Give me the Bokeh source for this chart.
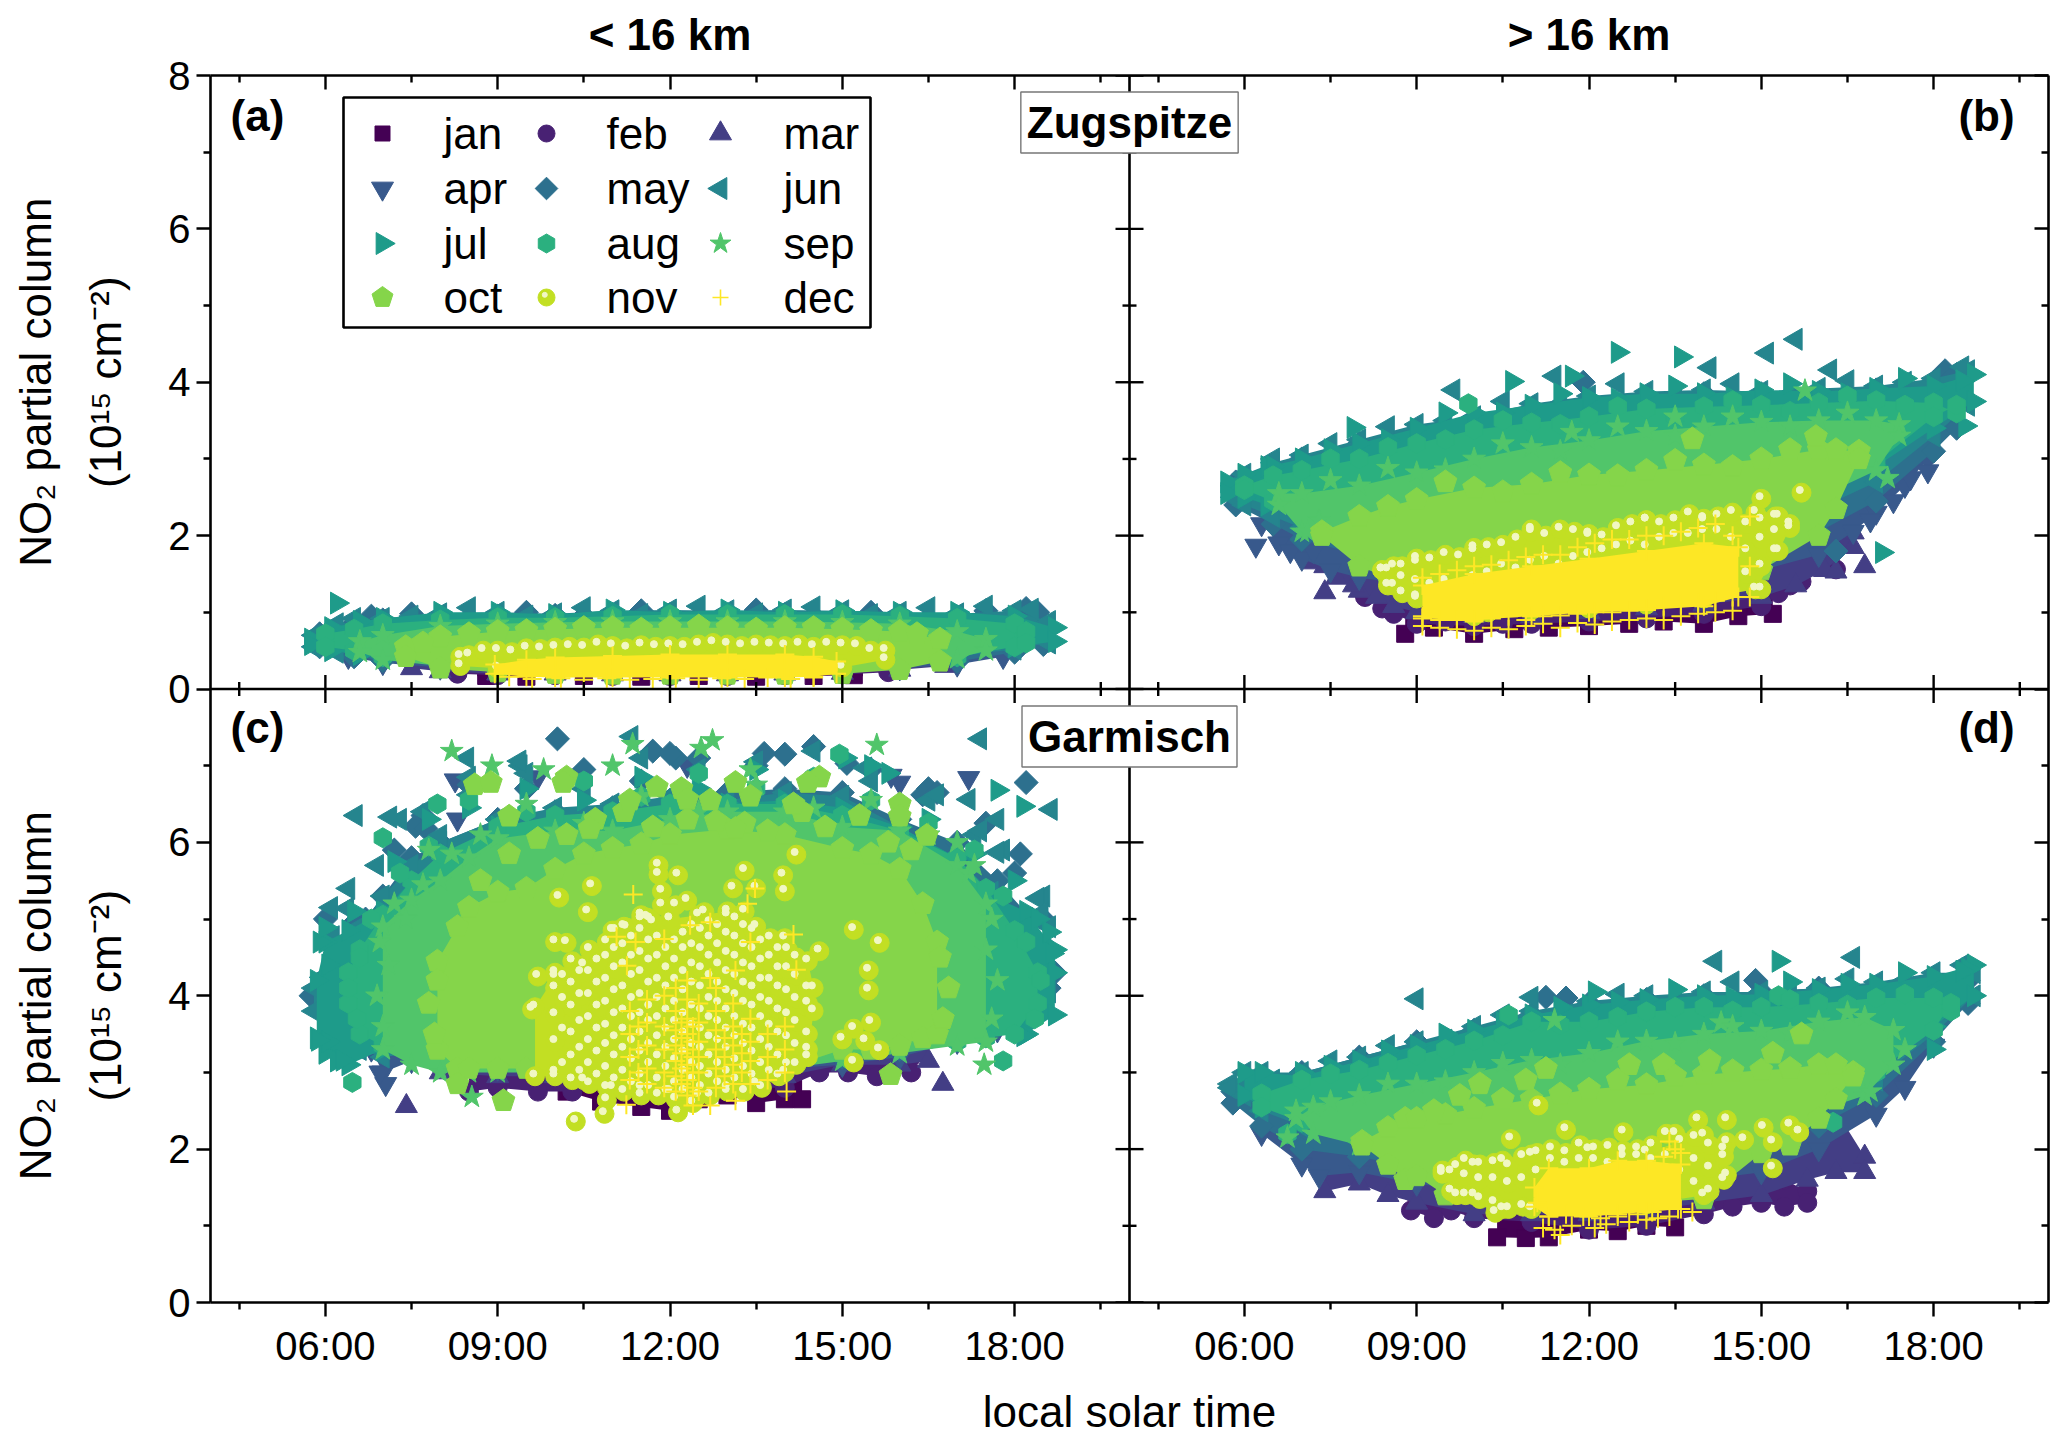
from math import pi
from bokeh.embed import file_html
from bokeh.models import (BoxAnnotation, FixedTicker, Label, LinearAxis, Range1d, Span)
from bokeh.plotting import figure
from bokeh.resources import INLINE

months = ["jan", "feb", "mar", "apr", "may", "jun", "jul", "aug", "sep", "oct", "nov", "dec"]
colors = ["#440154", "#482173", "#433E85", "#38598C", "#2D708E", "#25858E",
          "#1E9B8A", "#2BB07F", "#51C56A", "#85D54A", "#C2DF23", "#FDE725"]
x_tick_text = ["06:00", "09:00", "12:00", "15:00", "18:00"]
x_tick_hours = [6, 9, 12, 15, 18]
x_minor_hours = [4.5, 7.5, 10.5, 13.5, 16.5, 19.5]
y_tick_values = [0, 2, 4, 6, 8]
y_minor_values = [1, 3, 5, 7]

# ---------- panel (a): Zugspitze, < 16 km ----------
a_jan_t = [8.8, 9.5, 10.5, 11.5, 12.5, 13.5, 14.5, 15.2]
a_jan_lo = [.17, .16, .17, .16, .17, .16, .17, .18]
a_jan_hi = [.28, .3, .3, .3, .3, .3, .3, .28]
a_feb_t = [8.3, 9, 10, 11, 12, 13, 14, 15, 15.8]
a_feb_lo = [.2, .18, .18, .17, .17, .17, .18, .19, .22]
a_feb_hi = [.32, .35, .35, .35, .35, .35, .35, .35, .33]
a_mar_t = [7.5, 8, 9, 10, 11, 12, 13, 14, 15, 16, 16.8]
a_mar_lo = [.27, .23, .2, .2, .19, .19, .19, .2, .21, .25, .3]
a_mar_hi = [.45, .47, .5, .5, .5, .5, .5, .5, .5, .48, .45]
a_apr_t = [6.4, 7, 8, 9, 10, 11, 12, 13, 14, 15, 16, 17, 17.8]
a_apr_lo = [.42, .34, .28, .24, .23, .22, .22, .22, .23, .24, .27, .32, .42]
a_apr_hi = [.65, .68, .7, .72, .72, .72, .72, .72, .72, .72, .7, .7, .68]
a_may_t = [5.9, 6.5, 7, 8, 9, 10, 11, 12, 13, 14, 15, 16, 17, 18, 18.5]
a_may_lo = [.55, .42, .37, .32, .28, .27, .27, .26, .27, .27, .28, .3, .36, .48, .58]
a_may_hi = [.72, .85, .9, .93, .95, .96, .97, .97, .96, .97, .96, .95, .94, .93, .82]
a_may_hx = [6.8, 7.5, 8.5, 9.5, 10.5, 11.5, 12.5, 13.5, 14.5, 15.5, 16.5, 17.5, 18.2, 18.4]
a_may_hy = [.95, .98, .92, 1.0, .95, 1.02, .94, 1.03, .95, 1.0, .92, 1.02, 1.05, 1.0]
a_jun_t = [5.8, 6.2, 7, 8, 9, 10, 11, 12, 13, 14, 15, 16, 17, 18, 18.6]
a_jun_lo = [.55, .48, .42, .36, .33, .32, .31, .3, .31, .31, .33, .36, .42, .52, .6]
a_jun_hi = [.7, .85, .92, .98, 1.0, .98, 1.02, 1.03, 1.02, 1.03, 1.02, 1.0, .98, 1.02, .88]
a_jun_hx = [6.5, 7.5, 8.5, 9.5, 10.5, 11.5, 12.5, 13.5, 14.5, 15.5, 16.5, 17.5, 18.3]
a_jun_hy = [.92, .95, 1.06, .95, 1.06, .97, 1.08, .98, 1.07, .97, 1.06, 1.08, 1.04]
a_jul_t = [5.75, 6.1, 6.6, 7, 8, 9, 10, 11, 12, 13, 14, 15, 16, 17, 18, 18.7]
a_jul_lo = [.58, .5, .45, .42, .38, .35, .34, .33, .33, .33, .34, .35, .38, .45, .55, .62]
a_jul_hi = [.65, .8, .88, .92, 1.0, 1.0, .97, 1.03, 1.0, 1.03, 1.0, 1.02, 1.0, 1.0, .95, .8]
a_jul_xx = [6.2]
a_jul_xy = [1.12]
a_aug_t = [6, 6.5, 7, 8, 9, 10, 11, 12, 13, 14, 15, 16, 17, 18, 18.2]
a_aug_lo = [.55, .5, .42, .38, .35, .33, .33, .33, .33, .33, .35, .38, .42, .55, .6]
a_aug_hi = [.72, .78, .85, .9, .93, .93, .95, .97, .97, .97, .97, .95, .92, .85, .75]
a_sep_t = [6.6, 7, 8, 9, 10, 11, 12, 13, 14, 15, 16, 17, 17.5]
a_sep_lo = [.48, .38, .3, .28, .26, .25, .25, .25, .25, .27, .32, .4, .5]
a_sep_hi = [.62, .7, .82, .85, .87, .88, .88, .88, .88, .87, .85, .75, .65]
a_oct_t = [7.4, 8, 9, 10, 11, 12, 13, 14, 15, 16, 16.7]
a_oct_lo = [.42, .27, .22, .2, .19, .19, .19, .19, .2, .25, .36]
a_oct_hi = [.55, .68, .75, .78, .8, .8, .8, .8, .78, .75, .65]
a_oct_hx = [7.7, 8.5, 9.5, 10.5, 11.5, 12.5, 13.5, 14.5, 15.5, 16.3]
a_oct_hy = [.6, .72, .76, .8, .78, .82, .78, .8, .76, .72]
a_nov_t = [8.35, 9, 10, 11, 12, 13, 14, 15, 15.75]
a_nov_lo = [.3, .27, .26, .26, .25, .25, .26, .28, .38]
a_nov_hi = [.42, .5, .54, .56, .56, .58, .56, .57, .5]
a_nov_hx = [8.5, 8.75, 9.25, 9.5, 9.75, 10.25, 10.5, 10.75, 11.25, 11.5, 11.75, 12.25, 12.5, 12.75, 13.25, 13.5,
            13.75, 14.25, 14.5, 14.75, 15.25, 15.5]
a_nov_hy = [.44, .5, .48, .53, .52, .55, .54, .58, .53, .57, .55, .55, .58, .6, .56, .58, .57, .58, .55, .58, .56, .5]
a_dec_t = [8.95, 9.5, 10, 11, 12, 13, 14, 14.5, 14.9]
a_dec_lo = [.2, .16, .15, .15, .15, .15, .15, .16, .2]
a_dec_hi = [.32, .38, .41, .43, .45, .45, .45, .42, .36]
a_dec_xx = [9.2, 9.6, 10.1, 10.5, 10.9, 11.3, 11.7, 12.1, 12.5, 12.9, 13.3, 13.7, 14.1, 14.5]
a_dec_xy = [.16, .13, .14, .12, .14, .12, .13, .14, .12, .14, .13, .15, .13, .15]

# ---------- panel (b): Zugspitze, > 16 km ----------
b_jan_t = [8.8, 9.3, 10, 10.7, 11.3, 12, 12.7, 13.3, 14, 14.6, 15.2]
b_jan_lo = [.72, .8, .72, .78, .8, .82, .85, .88, .85, .95, .98]
b_jan_hi = [1.3, 1.35, 1.4, 1.4, 1.4, 1.45, 1.5, 1.5, 1.55, 1.6, 1.6]
b_feb_t = [8.1, 8.6, 9, 10, 11, 12, 13, 14, 15, 15.5]
b_feb_lo = [1.2, .98, .85, .82, .85, .88, .92, .98, 1.08, 1.35]
b_feb_hi = [1.6, 1.7, 1.7, 1.7, 1.75, 1.8, 1.85, 1.9, 1.9, 1.85]
b_feb_xx = [16.3, 8.4, 9.5, 10.5, 15.3, 15.7]
b_feb_xy = [1.56, 1.05, .88, .85, 1.25, 1.4]
b_mar_t = [7.2, 7.6, 8, 8.6, 9, 10, 11, 12, 13, 14, 15, 15.6, 16.1, 16.6]
b_mar_lo = [1.65, 1.45, 1.28, 1.08, 1.0, .95, .95, 1, 1.05, 1.1, 1.2, 1.35, 1.55, 1.85]
b_mar_hi = [2, 2.1, 2.1, 2.15, 2.15, 2.2, 2.2, 2.2, 2.25, 2.25, 2.3, 2.3, 2.3, 2.3]
b_mar_xx = [7.4, 16.8, 16.6, 16.3, 7.4, 7.9, 8.3]
b_mar_xy = [1.26, 1.6, 2.04, 1.53, 1.6, 1.35, 1.2]
b_apr_t = [6.3, 6.6, 7, 7.5, 8, 9, 10, 11, 12, 13, 14, 15, 16, 16.6, 17, 17.5, 17.9]
b_apr_lo = [2.15, 1.9, 1.7, 1.55, 1.45, 1.35, 1.3, 1.3, 1.35, 1.4, 1.45, 1.55, 1.75, 2.05, 2.3, 2.65, 3.0]
b_apr_hi = [2.5, 2.6, 2.7, 2.8, 2.85, 2.95, 3.05, 3.1, 3.2, 3.25, 3.3, 3.3, 3.35, 3.35, 3.3, 3.25, 3.2]
b_apr_xx = [6.2, 17.9, 6.8, 6.5, 7.2, 16.9, 17.3, 17.6]
b_apr_xy = [1.87, 2.84, 1.8, 2.15, 1.8, 2.2, 2.45, 2.75]
b_may_t = [5.85, 6.5, 7, 8, 9, 10, 11, 12, 13, 14, 15, 16, 17, 18, 18.4]
b_may_lo = [2.4, 2.15, 1.95, 1.75, 1.65, 1.6, 1.6, 1.6, 1.65, 1.7, 1.8, 2.05, 2.45, 3.1, 3.4]
b_may_hi = [2.7, 2.85, 3, 3.2, 3.35, 3.5, 3.6, 3.7, 3.8, 3.85, 3.85, 3.85, 3.9, 4.0, 4.1]
b_may_xx = [16.3, 11.9, 18.2, 18.3]
b_may_xy = [1.8, 4.0, 4.15, 4.05]
b_jun_t = [5.8, 6, 6.5, 7, 8, 9, 10, 11, 12, 13, 14, 15, 16, 17, 18, 18.6]
b_jun_lo = [2.5, 2.4, 2.25, 2.1, 1.95, 1.9, 1.85, 1.85, 1.9, 1.95, 2.0, 2.1, 2.35, 2.7, 3.3, 3.7]
b_jun_hi = [2.65, 2.8, 2.95, 3.05, 3.25, 3.45, 3.55, 3.72, 3.82, 3.88, 3.9, 3.88, 3.92, 3.95, 4.05, 4.15]
b_jun_xx = [15.1, 15.6, 14.1, 16.2, 9.64, 11.4, 6.5, 7.5, 8.5, 9.5, 10.5, 11.5, 12.5, 13.5, 14.5, 15.5, 16.5, 17.5, 18.5]
b_jun_xy = [4.38, 4.56, 4.19, 4.16, 3.9, 4.08, 3.0, 3.2, 3.42, 3.5, 3.75, 3.72, 3.98, 3.8, 3.98, 3.85, 4.02, 4.0, 4.2]
b_jul_t = [5.7, 6, 6.4, 7, 8, 9, 10, 11, 12, 13, 14, 15, 16, 17, 18, 18.7]
b_jul_lo = [2.55, 2.5, 2.4, 2.3, 2.2, 2.1, 2.05, 2.05, 2.1, 2.15, 2.2, 2.35, 2.55, 2.9, 3.4, 3.75]
b_jul_hi = [2.7, 2.8, 2.9, 3.0, 3.2, 3.4, 3.6, 3.7, 3.8, 3.85, 3.85, 3.9, 3.88, 3.92, 3.95, 4.1]
b_jul_xx = [12.5, 13.6, 10.66, 11.7, 7.9, 17.1, 18.55, 6.5, 7.5, 8.5, 9.5, 10.5, 11.5, 12.5, 13.5, 14.5, 15.5, 16.5,
            17.5, 18.5]
b_jul_xy = [4.39, 4.33, 4.01, 4.08, 3.41, 1.78, 3.43, 2.9, 3.12, 3.25, 3.6, 3.6, 3.85, 3.78, 3.95, 3.8, 3.98, 3.85,
            4.05, 4.02]
b_aug_t = [6, 6.5, 7, 8, 9, 10, 11, 12, 13, 14, 15, 16, 17, 18, 18.4]
b_aug_lo = [2.6, 2.45, 2.25, 2.1, 2.0, 2.0, 2.0, 2.05, 2.1, 2.2, 2.35, 2.6, 2.95, 3.55, 3.7]
b_aug_hi = [2.65, 2.78, 2.85, 3.0, 3.2, 3.38, 3.47, 3.55, 3.65, 3.68, 3.7, 3.73, 3.76, 3.73, 3.6]
b_aug_hx = [7.5, 8.5, 9.5, 10.5, 11.5, 12.5, 13.5, 14.5, 15.5, 16.5, 17.5, 9.9]
b_aug_hy = [3.0, 3.15, 3.25, 3.5, 3.45, 3.68, 3.55, 3.76, 3.62, 3.82, 3.7, 3.72]
b_sep_t = [6.6, 7, 8, 9, 10, 11, 12, 13, 14, 15, 16, 17, 17.4]
b_sep_lo = [2.4, 2.05, 1.8, 1.7, 1.7, 1.7, 1.8, 1.9, 2.0, 2.2, 2.5, 2.85, 3.3]
b_sep_hi = [2.55, 2.55, 2.65, 2.82, 3.0, 3.15, 3.24, 3.36, 3.42, 3.48, 3.5, 3.5, 3.45]
b_sep_xx = [15.76, 7.5, 8.5, 9.5, 10.5, 11.5, 12.5, 13.5, 14.5, 15.5, 16.5, 7.1, 7.3, 17.2, 11.7, 13.5]
b_sep_xy = [3.89, 2.72, 2.88, 2.86, 3.2, 3.1, 3.42, 3.3, 3.55, 3.42, 3.6, 2.05, 2.2, 2.75, 3.35, 3.55]
b_oct_t = [7.35, 8, 8.5, 9, 10, 11, 12, 13, 14, 15, 16, 16.3, 16.7]
b_oct_lo = [2.0, 1.6, 1.45, 1.35, 1.25, 1.25, 1.25, 1.3, 1.35, 1.55, 2.0, 2.35, 3.0]
b_oct_hi = [2.05, 2.25, 2.38, 2.47, 2.62, 2.67, 2.79, 2.85, 2.92, 3.0, 3.12, 3.12, 3.1]
b_oct_xx = [13.8, 15.95, 9.5, 10.5, 11.5, 12.5, 13.5, 14.5, 15.5]
b_oct_xy = [3.26, 3.29, 2.7, 2.57, 2.82, 2.78, 2.98, 2.9, 3.12]
b_nov_t = [8.4, 8.6, 9, 10, 11, 12, 13, 14, 14.9, 15.3, 15.5]
b_nov_lo = [1.55, 1.35, 1.18, .95, 1.03, 1.05, 1.1, 1.18, 1.3, 1.8, 2.1]
b_nov_hi = [1.55, 1.6, 1.7, 1.84, 2.08, 2.02, 2.2, 2.22, 2.3, 2.25, 2.15]
b_nov_xx = [15.7, 15.0]
b_nov_xy = [2.56, 2.48]
b_nov_cols = [
    (8.5, [1.35, 1.55]), (8.75, [1.25, 1.45, 1.6]), (9, [1.2, 1.4, 1.65]), (9.25, [1.15, 1.35, 1.68]),
    (9.5, [1.1, 1.4, 1.75]), (9.75, [1.05, 1.35, 1.72]), (10, [1.05, 1.45, 1.8]), (10.25, [1.0, 1.5, 1.85]),
    (10.5, [1.6, 1.88]), (10.75, [1.55, 1.95]), (11, [1.65, 2.05]), (11.25, [1.7, 2.0]), (11.5, [1.6, 2.08]),
    (11.75, [1.7, 2.05]), (12, [1.75, 2.0]), (12.25, [1.8, 1.98]), (12.5, [1.85, 2.1]), (12.75, [1.9, 2.15]),
    (13, [1.85, 2.2]), (13.25, [1.95, 2.15]), (13.5, [2.0, 2.2]), (13.75, [2.0, 2.28]), (14, [2.05, 2.2]),
    (14.25, [2.05, 2.25]), (14.5, [1.95, 2.3]), (14.75, [1.5, 1.8, 2.15]), (15, [1.3, 1.6, 1.95, 2.2]),
    (15.25, [1.8, 2.05, 2.25]),
]
b_dec_t = [9.1, 10, 11, 12, 13, 14, 14.6]
b_dec_lo = [.92, .9, .95, 1.0, 1.03, 1.08, 1.2]
b_dec_hi = [1.35, 1.5, 1.6, 1.7, 1.8, 1.9, 1.85]
b_dec_cols = [
    (9.1, [.82, .95, 1.45]), (9.4, [.8, .9, 1.5]), (9.7, [.78, .9, 1.55]), (10, [.76, .88, 1.6]),
    (10.3, [.8, .92, 1.62]), (10.6, [.78, .95, 1.68]), (10.9, [.82, .9, 1.72]), (11.2, [.85, .95, 1.75]),
    (11.5, [.8, .96, 1.75]), (11.8, [.86, .98, 1.85]), (12.1, [.84, 1.0, 1.9]), (12.4, [.88, 1.0, 1.95]),
    (12.7, [.9, 1.02, 1.95]), (13, [.92, 1.05, 2.0]), (13.3, [.9, 1.08, 2.0]), (13.6, [.95, 1.1, 2.05]),
    (13.9, [.98, 1.12, 2.1]), (14.2, [1.0, 1.15, 2.15]), (14.5, [1.02, 1.2, 2.0]), (14.8, [1.2, 1.6, 2.25]),
]

# ---------- panel (c): Garmisch, < 16 km ----------
c_jan_t = [10.2, 10.8, 11.5, 12, 12.5, 13, 13.5, 14, 14.3]
c_jan_lo = [2.75, 2.62, 2.55, 2.5, 2.65, 2.7, 2.6, 2.65, 2.65]
c_jan_hi = [3.1, 3.2, 3.2, 3.2, 3.2, 3.2, 3.2, 3.2, 3.1]
c_feb_t = [8.5, 9, 9.7, 10.3, 11, 12, 13, 14, 14.6, 15.1, 15.6, 16.2]
c_feb_lo = [2.75, 2.8, 2.75, 2.75, 2.85, 2.8, 2.8, 2.8, 3.0, 3.0, 2.95, 3.0]
c_feb_hi = [3.1, 3.2, 3.2, 3.3, 3.3, 3.3, 3.3, 3.3, 3.3, 3.3, 3.3, 3.2]
c_mar_t = [8, 9, 10, 11, 12, 13, 14, 15, 16, 16.5]
c_mar_lo = [3.0, 2.95, 2.95, 2.95, 2.9, 2.95, 2.95, 3.1, 3.1, 3.15]
c_mar_hi = [3.5, 3.6, 3.6, 3.6, 3.6, 3.6, 3.6, 3.6, 3.6, 3.5]
c_mar_xx = [7.41, 16.75]
c_mar_xy = [2.56, 2.85]
c_apr_t = [6.8, 7, 7.5, 8, 9, 10, 11, 12, 13, 14, 15, 16, 17, 17.7]
c_apr_lo = [3.3, 3.0, 3.15, 3.1, 3.05, 3.05, 3.05, 3.05, 3.05, 3.05, 3.1, 3.2, 3.4, 3.55]
c_apr_hi = [4.5, 5.0, 5.4, 5.8, 6.1, 6.2, 6.2, 6.3, 6.3, 6.3, 6.2, 6.1, 5.6, 5.0]
c_apr_xx = [8.26, 17.2, 16.0, 15.85, 7.05, 6.95, 8.3, 9.7, 12.3]
c_apr_xy = [6.81, 6.84, 6.78, 6.87, 2.85, 3.0, 6.3, 6.85, 7.0]
c_may_t = [5.85, 6.2, 6.7, 7, 7.5, 8, 9, 10, 11, 12, 13, 14, 15, 16, 17, 17.7, 18.3, 18.6]
c_may_lo = [4.0, 3.7, 3.5, 3.35, 3.25, 3.15, 3.1, 3.1, 3.1, 3.1, 3.1, 3.15, 3.2, 3.3, 3.45, 3.6, 3.8, 4.1]
c_may_hi = [4.05, 4.5, 5.0, 5.3, 5.8, 6.0, 6.3, 6.4, 6.45, 6.55, 6.65, 6.7, 6.65, 6.3, 6.0, 5.5, 5.0, 4.6]
c_may_xx = [10.04, 18.2, 18.1, 14.0, 12.1, 6.0, 6.5, 7.2, 7.7, 8.5, 9.5, 10.5, 11.5, 12.5, 13.5, 14.5, 15.5, 16.5,
            17.5, 18.0, 18.5, 18.7, 6.2, 6.4, 7.57, 7.75, 11.7, 12.0, 13.64, 15.08, 16.4, 16.65, 5.75, 18.5, 18.4]
c_may_xy = [7.35, 6.78, 5.85, 7.15, 7.1, 5.0, 4.95, 5.9, 6.35, 6.75, 6.7, 6.95, 6.8, 7.1, 7.0, 7.25, 6.95, 6.7,
            6.25, 5.6, 5.0, 4.3, 3.6, 3.3, 6.21, 6.18, 7.19, 7.16, 7.16, 7.03, 6.62, 6.65, 4.0, 4.2, 3.89]
c_jun_t = [5.8, 6.2, 6.6, 7, 7.5, 8, 9, 10, 11, 12, 13, 14, 15, 16, 17, 17.6, 18.2, 18.6]
c_jun_lo = [3.8, 3.4, 3.3, 3.2, 3.25, 3.2, 3.15, 3.15, 3.15, 3.15, 3.15, 3.2, 3.25, 3.35, 3.5, 3.65, 3.8, 4.05]
c_jun_hi = [4.1, 4.6, 4.9, 5.3, 5.7, 6.0, 6.3, 6.45, 6.5, 6.6, 6.55, 6.65, 6.6, 6.2, 5.8, 5.35, 4.95, 4.3]
c_jun_xx = [6.53, 17.4, 11.33, 18.63, 17.7, 8.47, 17.2, 14.5, 9.4, 6.1, 6.4, 6.9, 7.3, 7.7, 8.5, 9.5, 10.5, 11.5,
            12.5, 13.5, 15.5, 16.5, 17.3, 17.8, 18.5, 18.6, 7.13, 8.0, 8.5, 9.38, 15.4, 16.65, 17.4, 17.7, 18.4,
            18.47, 6.38, 6.13, 5.94]
c_jun_xy = [6.35, 7.35, 7.38, 6.43, 6.3, 7.1, 6.56, 7.19, 7.0, 5.15, 5.4, 5.7, 6.3, 6.4, 6.85, 6.9, 6.7, 7.1,
            6.95, 7.05, 6.8, 6.55, 6.1, 5.9, 5.3, 4.9, 6.33, 6.09, 6.62, 7.06, 6.97, 6.62, 6.15, 5.87, 5.27,
            5.08, 5.14, 4.77, 4.24]
c_jul_t = [5.85, 6, 6.4, 7, 7.5, 8, 9, 10, 11, 12, 13, 14, 15, 16, 17, 17.6, 18.2, 18.7]
c_jul_lo = [3.45, 3.25, 3.1, 3.3, 3.3, 3.25, 3.2, 3.2, 3.2, 3.2, 3.2, 3.25, 3.3, 3.4, 3.5, 3.6, 3.5, 3.75]
c_jul_hi = [4.2, 4.7, 4.85, 5.1, 5.5, 5.8, 6.2, 6.3, 6.35, 6.45, 6.5, 6.55, 6.45, 6.2, 5.8, 5.3, 5.1, 4.6]
c_jul_xx = [17.7, 18.15, 15.05, 6.05, 6.2, 5.9, 6.05, 6.5, 7.2, 7.8, 8.5, 9.5, 10.5, 11.5, 12.5, 13.5, 14.5, 15.5,
            16.5, 17.3, 18, 18.4, 18.7, 15.8, 6.0, 5.87, 6.3, 18.15, 18.6, 18.65]
c_jul_xy = [6.68, 6.47, 7.1, 3.4, 3.15, 4.7, 4.4, 5.1, 5.75, 6.3, 6.45, 6.7, 6.55, 6.85, 6.7, 6.95, 6.8, 7.0,
            6.3, 5.85, 5.5, 5.0, 4.3, 6.9, 4.89, 3.42, 3.16, 3.48, 4.83, 4.55]
c_aug_t = [6.4, 6.6, 7, 7.5, 8, 9, 10, 11, 12, 13, 14, 15, 16, 17, 17.5, 18, 18.4]
c_aug_lo = [3.9, 3.5, 3.35, 3.3, 3.2, 3.15, 3.15, 3.15, 3.15, 3.15, 3.2, 3.25, 3.35, 3.4, 3.45, 3.5, 3.9]
c_aug_hi = [4.3, 4.6, 5.05, 5.5, 5.85, 6.2, 6.35, 6.4, 6.5, 6.5, 6.5, 6.35, 6.15, 5.8, 5.4, 4.85, 4.3]
c_aug_xx = [7.0, 6.47, 17.8, 7.95, 14.95, 6.8, 7.3, 7.8, 8.5, 9.5, 10.5, 11.5, 12.5, 13.5, 14.5, 15.5, 16.5, 17.3,
            17.8, 18.2, 6.55, 6.4, 6.6, 18.35, 18.45]
c_aug_xy = [6.06, 2.87, 3.15, 6.5, 7.15, 5.0, 5.6, 5.95, 6.55, 6.4, 6.8, 6.6, 6.9, 6.7, 6.85, 6.55, 6.25, 5.9,
            5.3, 4.7, 3.7, 4.1, 4.5, 3.7, 4.2]
c_sep_t = [7, 7.5, 8, 8.5, 9, 10, 11, 12, 13, 14, 15, 16, 17, 17.5]
c_sep_lo = [3.3, 3.1, 3.0, 3.0, 3.0, 3.0, 3.0, 3.0, 3.0, 3.05, 3.15, 3.25, 3.35, 3.4]
c_sep_hi = [4.9, 5.25, 5.5, 5.8, 6.05, 6.15, 6.15, 6.3, 6.4, 6.4, 6.2, 6.15, 5.7, 5.2]
c_sep_xx = [8.2, 12.74, 12.54, 15.6, 11.35, 8.55, 17.47, 8.9, 9.8, 11.0, 13.4, 7.2, 7.7, 8.2, 8.7, 9.5, 10.5, 11.5,
            12.5, 13.5, 14.5, 15.5, 16.5, 17.2, 7.4, 7.8, 17, 17.3, 7.0, 6.9, 7.1, 6.95, 17.6, 17.7, 17.5, 17.6]
c_sep_xy = [7.19, 7.33, 7.23, 7.27, 7.28, 2.68, 3.1, 7.0, 6.95, 7.0, 6.95, 5.2, 5.45, 5.85, 6.1, 6.5, 6.25, 6.6,
            6.4, 6.75, 6.45, 6.55, 6.1, 5.6, 5.0, 5.9, 6.0, 5.7, 3.6, 4.0, 4.4, 4.7, 3.7, 4.2, 4.6, 5.0]
c_oct_t = [7.95, 8.3, 8.5, 9, 9.5, 10, 10.5, 11, 11.5, 12, 13, 14, 15, 15.5, 16, 16.4, 16.65]
c_oct_lo = [3.3, 3.05, 3.05, 3.05, 3.05, 3.05, 3.05, 3.05, 3.05, 3.05, 3.05, 3.05, 3.3, 3.3, 3.35, 3.45, 3.5]
c_oct_hi = [4.45, 4.9, 5.15, 5.35, 5.4, 5.65, 5.85, 5.92, 5.98, 6.1, 6.17, 6.1, 5.92, 5.85, 5.65, 5.2, 4.7]
c_oct_xx = [15.84, 9.1, 8.3, 10.2, 11.2, 13.4, 14.6, 16.0, 12.2, 8.6, 8.7, 9.2, 9.7, 10.2, 10.7, 11.3, 11.7, 12.3,
            12.7, 13.3, 13.7, 14.3, 14.7, 15.3, 15.8, 16.2, 8.88, 10.14, 9.2, 10.6, 11.77, 13.14, 14.4, 14.15, 16,
            16.47, 12.3, 12.8, 13.14, 7.9, 7.8, 7.95, 16.75, 16.85, 16.7]
c_oct_xy = [2.97, 2.63, 2.85, 6.85, 6.4, 6.6, 6.85, 6.5, 6.7, 6.75, 5.5, 5.85, 6.05, 6.1, 6.3, 6.55, 6.2, 6.3,
            6.55, 6.25, 6.15, 6.4, 6.2, 6.35, 6.0, 5.9, 6.78, 6.78, 6.34, 6.18, 6.72, 6.78, 6.78, 6.5, 6.34,
            6.09, 6.56, 6.28, 6.18, 3.5, 3.9, 4.2, 3.7, 4.1, 4.5]
c_nov_t = [9.65, 10, 10.5, 11, 11.5, 12, 12.5, 13, 13.5, 14, 14.4, 14.5]
c_nov_lo = [2.95, 2.95, 2.9, 2.8, 2.8, 2.75, 2.7, 2.8, 2.85, 3.0, 3.2, 3.8]
c_nov_hi = [3.85, 4.25, 4.4, 4.85, 5.05, 5.0, 5.05, 5.1, 4.9, 4.75, 4.45, 4.1]
c_nov_xx = [10.07, 10.64, 10.57, 10.0, 10.2, 9.7, 9.6, 11.8, 11.8, 12.14, 11.86, 11.86, 12.1, 12.3, 13.3, 13.1,
            13.5, 13.97, 14.0, 14.2, 12.6, 14.6, 15.2, 15.65, 15.46, 15.46, 15.5, 15.2, 15.0, 15.4, 15.65, 15.2,
            14.4, 10.36, 10.86, 10.9, 12.14, 11.6, 11.24, 11.7]
c_nov_xy = [5.28, 5.43, 5.09, 4.7, 4.69, 4.25, 3.82, 5.7, 5.58, 5.57, 5.36, 5.18, 5.18, 5.24, 5.63, 5.4,
            5.4, 5.57, 5.36, 5.84, 5.09, 4.58, 4.86, 4.69, 4.33, 4.07, 3.65, 3.57, 3.43, 3.41, 3.29, 3.13,
            3.5, 2.36, 2.46, 2.64, 2.48, 5.02, 4.89, 4.96]
c_nov_cols = [
    (10.0, [3.0, 3.4, 3.75, 4.1, 4.3]), (10.3, [2.9, 3.2, 3.5, 3.85, 4.15, 4.45]),
    (10.6, [2.85, 3.1, 3.4, 3.7, 4.0, 4.3, 4.6]), (10.9, [2.8, 3.05, 3.35, 3.6, 3.9, 4.2, 4.5, 4.7]),
    (11.2, [2.75, 3.0, 3.3, 3.55, 3.8, 4.1, 4.4, 4.65, 4.9]),
    (11.5, [2.7, 2.95, 3.25, 3.5, 3.75, 4.0, 4.3, 4.55, 4.85, 5.0]),
    (11.8, [2.7, 2.9, 3.2, 3.45, 3.7, 3.95, 4.2, 4.5, 4.75]),
    (12.1, [2.65, 2.85, 3.15, 3.4, 3.65, 3.9, 4.2, 4.45, 4.7]),
    (12.4, [2.6, 2.9, 3.1, 3.35, 3.6, 3.85, 4.15, 4.4, 4.65, 4.9]),
    (12.7, [2.7, 2.95, 3.2, 3.45, 3.7, 3.95, 4.25, 4.5, 4.75, 4.95]),
    (13.0, [2.75, 3.0, 3.3, 3.55, 3.8, 4.05, 4.3, 4.55, 4.8, 5.05]),
    (13.3, [2.75, 3.05, 3.35, 3.6, 3.9, 4.15, 4.4, 4.65, 4.9, 5.1]),
    (13.6, [2.8, 3.1, 3.4, 3.7, 3.95, 4.2, 4.45, 4.7]), (13.9, [2.95, 3.2, 3.5, 3.8, 4.1, 4.35, 4.6]),
    (14.2, [3.1, 3.35, 3.65, 3.95, 4.25, 4.5]), (14.4, [3.3, 3.9, 4.1]),
    (10.15, [3.1, 3.55, 3.95, 4.25]), (10.45, [3.0, 3.3, 3.65, 4.0, 4.3]),
    (10.75, [2.95, 3.25, 3.55, 3.85, 4.15, 4.45]), (11.05, [2.9, 3.2, 3.45, 3.75, 4.05, 4.35, 4.6, 4.85]),
    (11.35, [2.85, 3.15, 3.4, 3.7, 3.95, 4.25, 4.5, 4.75]),
    (11.65, [2.8, 3.1, 3.35, 3.65, 3.85, 4.15, 4.45, 4.7, 5.0]),
    (11.95, [2.75, 3.05, 3.3, 3.55, 3.8, 4.1, 4.35, 4.6]),
    (12.25, [2.75, 3.0, 3.25, 3.5, 3.75, 4.05, 4.3, 4.6, 4.8]),
    (12.55, [2.8, 3.05, 3.3, 3.55, 3.8, 4.1, 4.35, 4.6, 4.85]),
    (12.85, [2.85, 3.1, 3.4, 3.65, 3.9, 4.15, 4.4, 4.65, 4.9]),
    (13.15, [2.9, 3.15, 3.45, 3.7, 4.0, 4.25, 4.5, 4.75, 5.0]),
    (13.45, [2.95, 3.25, 3.55, 3.85, 4.1, 4.35, 4.6, 4.85]),
    (13.75, [3.0, 3.3, 3.6, 3.9, 4.2, 4.5, 4.75]), (14.05, [3.1, 3.45, 3.75, 4.05, 4.35, 4.6]),
]
c_dec_xx = [11.36, 13.48, 13.35, 12.7, 12.35, 14.15, 11.9, 11.07, 11.4, 14.2, 13.14, 11.25, 12.7, 13.4, 14.03,
            11.24, 13.14, 12.7, 12.4]
c_dec_xy = [5.32, 5.4, 5.2, 4.96, 4.92, 4.8, 4.74, 4.77, 4.7, 4.34, 4.33, 4.39, 4.23, 4.7, 2.75,
            2.58, 2.63, 2.57, 2.57]
c_dec_cols = [
    (11.3, [2.9, 3.2, 3.5, 3.8]), (11.6, [2.85, 3.05, 3.35, 3.65, 3.95]), (11.9, [2.8, 3.0, 3.3, 3.6, 4.0]),
    (12.1, [2.75, 2.95, 3.15, 3.35, 3.55, 3.8, 4.1]), (12.3, [2.7, 2.9, 3.1, 3.3, 3.5, 3.7, 3.95, 4.2]),
    (12.5, [2.75, 3.0, 3.2, 3.4, 3.65, 3.9]), (12.8, [2.8, 3.05, 3.3, 3.55, 3.8, 4.1]),
    (13.1, [2.85, 3.1, 3.35, 3.6, 3.9]), (13.4, [2.85, 3.15, 3.4, 3.7]), (13.7, [2.9, 3.2, 3.5]),
    (14.0, [3.0, 3.3, 3.6]),
    (12.2, [2.85, 3.05, 3.25, 3.45, 3.65]), (12.4, [2.8, 3.0, 3.2, 3.4, 3.6]), (11.45, [3.0, 3.3, 3.6]),
    (12.95, [2.95, 3.2, 3.45]), (13.25, [3.0, 3.25, 3.5]),
]

# ---------- panel (d): Garmisch, > 16 km ----------
d_jan_t = [10.4, 10.9, 11.3, 12, 12.5, 13, 13.5]
d_jan_lo = [.85, .84, .85, .95, .93, 1.0, .98]
d_jan_hi = [1.2, 1.2, 1.25, 1.3, 1.3, 1.3, 1.3]
d_feb_t = [8.9, 9.3, 9.6, 10, 11, 12, 13, 14, 14.5, 15, 15.4, 15.8]
d_feb_lo = [1.2, 1.1, 1.2, 1.1, 1.05, .95, 1.0, 1.15, 1.25, 1.3, 1.25, 1.3]
d_feb_hi = [1.45, 1.5, 1.55, 1.6, 1.6, 1.6, 1.65, 1.7, 1.75, 1.8, 1.6, 1.45]
d_mar_t = [7.4, 8, 8.5, 9, 10, 11, 12, 13, 14, 15, 15.8, 16.3, 16.8]
d_mar_lo = [1.45, 1.55, 1.4, 1.3, 1.15, 1.15, 1.15, 1.2, 1.3, 1.4, 1.6, 1.7, 1.7]
d_mar_hi = [1.9, 2.0, 2.1, 2.1, 2.1, 2.15, 2.2, 2.2, 2.3, 2.4, 2.5, 2.5, 1.9]
d_apr_t = [6.3, 7, 7.3, 8, 9, 10, 11, 12, 13, 14, 15, 16, 17, 17.5, 18]
d_apr_lo = [2.2, 1.8, 1.65, 1.7, 1.55, 1.45, 1.45, 1.45, 1.5, 1.6, 1.7, 2.0, 2.45, 2.8, 3.35]
d_apr_hi = [2.6, 2.8, 2.9, 3.0, 3.2, 3.3, 3.5, 3.6, 3.7, 3.8, 3.8, 3.8, 3.8, 3.7, 3.7]
d_may_t = [5.8, 6.3, 7, 8, 9, 10, 11, 12, 13, 14, 15, 16, 17, 18, 18.6]
d_may_lo = [2.6, 2.3, 2.0, 1.9, 1.75, 1.6, 1.6, 1.6, 1.65, 1.8, 2.0, 2.3, 2.7, 3.4, 3.9]
d_may_hi = [2.75, 2.9, 3.0, 3.2, 3.4, 3.55, 3.75, 3.9, 3.95, 4.0, 4.05, 4.1, 4.1, 4.2, 4.2]
d_may_xx = [11.25, 11.6, 14.9]
d_may_xy = [3.98, 3.97, 4.2]
d_jun_t = [5.75, 6, 6.3, 7, 8, 9, 10, 11, 12, 13, 14, 15, 16, 17, 18, 18.7]
d_jun_lo = [2.8, 2.7, 2.5, 2.3, 2.1, 2.0, 1.85, 1.8, 1.8, 1.85, 2.0, 2.2, 2.5, 2.9, 3.5, 4.0]
d_jun_hi = [2.85, 3.0, 3.0, 3.0, 3.2, 3.4, 3.6, 3.8, 3.93, 4.0, 4.05, 4.05, 4.1, 4.18, 4.3, 4.3]
d_jun_xx = [9.0, 14.2, 16.6, 11.0, 6.5, 7.5, 8.5, 9.5, 10.5, 11.5, 12.5, 13.5, 14.5, 15.5, 16.5, 17.5, 18.5]
d_jun_xy = [3.96, 4.45, 4.5, 3.98, 2.9, 3.15, 3.35, 3.42, 3.75, 3.75, 4.02, 3.95, 4.18, 4.02, 4.22, 4.2, 4.4]
d_jul_t = [6, 6.3, 7, 8, 9, 10, 11, 12, 13, 14, 15, 16, 17, 18, 18.7]
d_jul_lo = [2.7, 2.55, 2.5, 2.3, 2.15, 2.05, 2.0, 2.0, 2.05, 2.2, 2.35, 2.7, 3.0, 3.6, 4.0]
d_jul_hi = [3.0, 3.0, 2.95, 3.15, 3.35, 3.55, 3.75, 3.88, 3.95, 4.0, 4.02, 4.08, 4.15, 4.25, 4.4]
d_jul_xx = [15.3, 12.1, 18.0, 18.6, 7.0, 7.5, 8.5, 9.5, 10.5, 11.5, 12.5, 13.5, 14.5, 15.5, 16.5, 17.5, 18.5]
d_jul_xy = [4.45, 4.05, 3.3, 4.35, 3.0, 3.08, 3.28, 3.5, 3.65, 3.85, 3.92, 4.08, 3.98, 4.18, 4.15, 4.3, 4.32]
d_aug_t = [6.3, 7, 8, 9, 10, 11, 12, 13, 14, 15, 16, 17, 18, 18.3]
d_aug_lo = [2.55, 2.35, 2.2, 2.1, 2.05, 2.0, 2.0, 2.05, 2.2, 2.35, 2.6, 3.0, 3.55, 3.9]
d_aug_hi = [2.72, 2.9, 3.03, 3.22, 3.41, 3.66, 3.66, 3.79, 3.85, 3.85, 3.9, 3.97, 3.97, 3.8]
d_aug_xx = [10.6, 15.3, 16.25, 6.75, 7.5, 8.5, 9.5, 10.5, 11.5, 12.5, 13.5, 14.5, 15.5, 16.5, 17.5]
d_aug_xy = [3.75, 4.0, 2.35, 2.2, 2.98, 3.12, 3.3, 3.48, 3.62, 3.72, 3.85, 3.8, 3.95, 3.88, 4.02]
d_sep_t = [6.9, 7.2, 8, 9, 10, 11, 12, 13, 14, 15, 16, 16.8, 17.3]
d_sep_lo = [2.5, 2.2, 2.05, 2.0, 1.95, 1.9, 1.9, 2.0, 2.15, 2.3, 2.5, 2.7, 3.1]
d_sep_hi = [2.4, 2.55, 2.7, 2.85, 3.0, 3.16, 3.25, 3.41, 3.5, 3.54, 3.66, 3.72, 3.55]
d_sep_xx = [11.4, 14.3, 17.5, 6.75, 16.9, 7.5, 8.5, 9.5, 10.5, 11.5, 12.5, 13.5, 14.5, 15.5, 16.5]
d_sep_xy = [3.68, 3.65, 3.3, 2.15, 2.75, 2.62, 2.85, 2.88, 3.12, 3.1, 3.4, 3.38, 3.6, 3.5, 3.78]
d_oct_t = [8.05, 8.5, 8.8, 9, 9.5, 10, 11, 12, 13, 14, 15, 15.5, 16, 16.3, 16.6]
d_oct_lo = [2.05, 1.8, 1.6, 1.65, 1.4, 1.5, 1.3, 1.25, 1.3, 1.35, 1.95, 2.05, 2.4, 2.65, 2.95]
d_oct_hi = [2.1, 2.28, 2.4, 2.4, 2.45, 2.53, 2.65, 2.78, 2.84, 2.97, 3.03, 3.05, 3.1, 3.1, 3.0]
d_oct_xx = [15.7, 15.2, 10.1, 10.9, 11.25, 12.7, 13.3, 14.1, 9.75, 9.3, 10.5, 11.5, 12.5, 13.5, 14.5]
d_oct_xy = [3.5, 3.25, 2.85, 2.9, 3.05, 3.1, 3.1, 3.15, 2.7, 2.5, 2.65, 2.72, 2.9, 2.95, 3.02]
d_nov_t = [9.45, 9.7, 10, 10.5, 11, 12, 13, 14, 14.4]
d_nov_lo = [1.68, 1.4, 1.4, 1.22, 1.22, 1.25, 1.28, 1.4, 1.66]
d_nov_hi = [1.72, 1.77, 1.8, 1.85, 1.93, 1.99, 1.96, 2.18, 2.09]
d_nov_xx = [11.12, 10.64, 12.6, 11.6, 13.9, 14.4, 15.04, 15.5, 15.66, 15.2, 15.2, 10.37, 14.7, 13.5]
d_nov_xy = [2.57, 2.13, 2.22, 2.25, 2.38, 2.38, 2.28, 2.31, 2.22, 2.09, 1.75, 1.17, 2.12, 2.2]
d_nov_cols = [
    (9.6, [1.45, 1.7]), (9.85, [1.4, 1.65, 1.85]), (10.1, [1.35, 1.6, 1.8]), (10.35, [1.3, 1.6, 1.82]),
    (10.6, [1.22, 1.55, 1.78]), (10.85, [1.25, 1.6, 1.9]), (11.1, [1.7, 1.95]), (11.35, [1.85, 2.0]),
    (11.6, [1.8, 1.95]), (11.85, [1.85, 2.05]), (12.1, [1.85, 2.0]), (12.35, [1.8, 2.02]), (12.6, [1.9, 1.98]),
    (12.85, [1.9, 2.0]), (13.1, [1.85, 2.05]), (13.35, [1.9, 2.2]), (13.6, [1.7, 2.1]),
    (13.85, [1.55, 1.85, 2.15]), (14.1, [1.45, 1.75, 2.05]), (14.35, [1.6, 1.9, 2.0]),
]
d_dec_t = [11.05, 11.3, 12, 12.5, 13, 13.6]
d_dec_lo = [1.25, 1.12, 1.12, 1.15, 1.18, 1.22]
d_dec_hi = [1.5, 1.75, 1.75, 1.85, 1.85, 1.8]
d_dec_xx = [11.2, 11.4, 11.5, 11.7, 12.1, 12.3, 12.7, 13.0, 13.2, 13.4, 13.8, 13.5, 13.4, 13.6, 11.3, 11.6, 11.9,
            12.2, 12.5, 12.85, 13.1, 13.55, 11.1, 13.3]
d_dec_xy = [.97, .95, .88, 1.0, .97, 1.02, 1.05, 1.08, 1.1, 1.12, 1.18, 2.0, 2.1, 1.95, 1.12, 1.15, 1.12,
            1.1, 1.12, 1.15, 1.18, 1.22, 1.3, 1.9]

# ---------- layout: reference pixel frame ----------
FX0, FX1, FY0, FY1 = 210, 2048, 75, 1302
FRAME_W, FRAME_H = FX1 - FX0, FY1 - FY0
MS = 19


def px(X):
    return 4 + (X - FX0) * 32 / FRAME_W


def py(Y):
    return (FY1 - Y) * 16 / FRAME_H


p = figure(width=2058, height=1436, x_range=Range1d(4, 36), y_range=Range1d(0, 16),
           frame_width=FRAME_W, frame_height=FRAME_H,
           output_backend="svg", toolbar_location=None, x_axis_location=None, y_axis_location=None,
           min_border_left=FX0, min_border_top=FY0, min_border_right=10, min_border_bottom=10,
           outline_line_color=None)
p.xgrid.visible = False
p.ygrid.visible = False
p.extra_x_ranges = {"xr": Range1d(-12, 20)}   # 4..20 h on the right half
p.extra_y_ranges = {"yt": Range1d(-8, 8)}     # 0..8 on the upper half

panels = {"a": ("default", "yt"), "b": ("xr", "yt"), "c": ("default", "default"), "d": ("xr", "default")}
g = globals()


def markers(pn, i, xs, ys, xr, yr):
    m = months[i]
    kw = dict(x_range_name=xr, y_range_name=yr)
    col = colors[i]
    if m == "jan":
        p.scatter(xs, ys, marker="square", size=MS - 2, color=col, **kw)
    elif m == "feb":
        p.scatter(xs, ys, marker="circle", size=MS, color=col, **kw)
    elif m == "mar":
        p.scatter(xs, ys, marker="triangle", size=MS + 3, color=col, **kw)
    elif m == "apr":
        p.scatter(xs, ys, marker="inverted_triangle", size=MS + 3, color=col, **kw)
    elif m == "may":
        p.scatter(xs, ys, marker="square", angle=pi / 4, size=MS - 2, color=col, **kw)
    elif m == "jun":
        p.scatter(xs, ys, marker="triangle", angle=pi / 2, size=MS + 3, color=col, **kw)
    elif m == "jul":
        p.scatter(xs, ys, marker="triangle", angle=-pi / 2, size=MS + 3, color=col, **kw)
    elif m == "aug":
        p.scatter(xs, ys, marker="hex", angle=pi / 2, size=MS + 1, color=col, **kw)
    elif m == "sep":
        p.scatter(xs, ys, marker="star", size=MS + 5, color=col, **kw)
    elif m == "oct":
        p.ngon(xs, ys, radius=12, radius_units="screen", n=5, color=col, **kw)
    elif m == "nov":
        p.scatter(xs, ys, marker="circle", size=MS, color=col, **kw)
        p.scatter([x - 0.03 for x in xs], [y + 0.035 for y in ys], marker="circle", size=7,
                  color="#F1F7C4", **kw)
    else:
        p.scatter(xs, ys, marker="cross", size=19, line_color=col, line_width=2, **kw)


for pn, (xr, yr) in panels.items():
    for i, m in enumerate(months):
        t = g.get(f"{pn}_{m}_t")
        xs, ys = [], []
        if t is not None:
            lo, hi = g[f"{pn}_{m}_lo"], g[f"{pn}_{m}_hi"]
            p.varea(x=t, y1=lo, y2=hi, fill_color=colors[i], x_range_name=xr, y_range_name=yr)
            xs += list(t) + list(t)
            ys += list(hi) + list(lo)
        xs += g.get(f"{pn}_{m}_xx", []) + g.get(f"{pn}_{m}_hx", [])
        ys += g.get(f"{pn}_{m}_xy", []) + g.get(f"{pn}_{m}_hy", [])
        for tc, vals in g.get(f"{pn}_{m}_cols", []):
            xs += [tc] * len(vals)
            ys += vals
        markers(pn, i, xs, ys, xr, yr)

# ---------- axes ----------
TK = 14
x_ticks = x_tick_hours + [h + 16 for h in x_tick_hours]
x_minor = x_minor_hours + [h + 16 for h in x_minor_hours]
y_ticks = y_tick_values + [v + 8 for v in y_tick_values[1:]]
y_minor = y_minor_values + [v + 8 for v in y_minor_values]
x_over = {h: s for h, s in zip(x_ticks, x_tick_text * 2)}
y_over = {v: str(v % 8 if v != 16 else 8) for v in y_ticks}


def style(ax, inward):
    ax.axis_line_width = 2.6
    ax.axis_line_color = "black"
    ax.major_tick_line_width = 2.4
    ax.minor_tick_line_width = 2.4
    ax.major_tick_line_color = "black"
    ax.minor_tick_line_color = "black"
    if inward:
        ax.major_tick_in, ax.major_tick_out = TK, 0
        ax.minor_tick_in, ax.minor_tick_out = 7, 0
        ax.major_label_text_font_size = "0px"
        ax.major_label_text_color = None
    else:
        ax.major_tick_in, ax.major_tick_out = 0, TK
        ax.minor_tick_in, ax.minor_tick_out = 0, 7
        ax.major_label_text_font = "Liberation Sans"
        ax.major_label_text_font_size = "40px"
        ax.major_label_text_color = "black"


def text_axis(ticks, overrides, standoff, bold=False, vertical=False):
    ax = LinearAxis(ticker=FixedTicker(ticks=ticks), major_label_overrides=overrides)
    ax.axis_line_color = None
    ax.major_tick_line_color = None
    ax.minor_tick_line_color = None
    ax.major_tick_in = ax.major_tick_out = 0
    ax.major_label_standoff = standoff
    ax.major_label_text_font = "Liberation Sans"
    ax.major_label_text_font_size = "44px"
    ax.major_label_text_color = "black"
    ax.major_label_text_font_style = "bold" if bold else "normal"
    if vertical:
        ax.major_label_orientation = "vertical"
    return ax


bottom = LinearAxis(ticker=FixedTicker(ticks=x_ticks, minor_ticks=x_minor), major_label_overrides=x_over)
style(bottom, False)
bottom.major_label_standoff = 7
bottom.axis_label = "local solar time"
bottom.axis_label_text_font = "Liberation Sans"
bottom.axis_label_text_font_size = "44px"
bottom.axis_label_text_font_style = "normal"
bottom.axis_label_text_color = "black"
bottom.axis_label_standoff = 16
p.add_layout(bottom, "below")

left = LinearAxis(ticker=FixedTicker(ticks=y_ticks, minor_ticks=y_minor), major_label_overrides=y_over)
style(left, False)
left.major_label_standoff = 6
left.major_label_orientation = "horizontal"
p.add_layout(left, "left")
# the two lines of each y title are the labels of two extra axes
p.add_layout(text_axis([4, 12], {4: "(10\u00b9\u2075 cm\u207b\u00b2)", 12: "(10\u00b9\u2075 cm\u207b\u00b2)"}, 36,
                       vertical=True), "left")
p.add_layout(text_axis([4, 12], {4: "NO\u2082 partial column", 12: "NO\u2082 partial column"}, 18,
                       vertical=True), "left")

top = LinearAxis(ticker=FixedTicker(ticks=x_ticks, minor_ticks=x_minor))
style(top, True)
p.add_layout(top, "above")
p.add_layout(text_axis([12, 28], {12: "< 16 km", 28: "> 16 km"}, 17, bold=True), "above")
right = LinearAxis(ticker=FixedTicker(ticks=y_ticks, minor_ticks=y_minor))
style(right, True)
p.add_layout(right, "right")

# shared inner axes with ticks crossing them
p.add_layout(Span(location=20, dimension="height", line_color="black", line_width=2.6))
p.add_layout(Span(location=8, dimension="width", line_color="black", line_width=2.6))
dy_major, dy_minor = TK * 16 / FRAME_H, 7 * 16 / FRAME_H
dx_major, dx_minor = TK * 32 / FRAME_W, 7 * 32 / FRAME_W
p.segment(x_ticks, [8 - dy_major] * len(x_ticks), x_ticks, [8 + dy_major] * len(x_ticks),
          line_color="black", line_width=2.4)
p.segment(x_minor, [8 - dy_minor] * len(x_minor), x_minor, [8 + dy_minor] * len(x_minor),
          line_color="black", line_width=2.4)
p.segment([20 - dx_major] * len(y_ticks), y_ticks, [20 + dx_major] * len(y_ticks), y_ticks,
          line_color="black", line_width=2.4)
p.segment([20 - dx_minor] * len(y_minor), y_minor, [20 + dx_minor] * len(y_minor), y_minor,
          line_color="black", line_width=2.4)


def label(X, Y, text, size=44, style="normal", angle=0, **kw):
    p.add_layout(Label(x=px(X), y=py(Y), text=text, text_font="Liberation Sans", text_font_size=f"{size}px",
                       text_font_style=style, text_align="center", text_baseline="middle", angle=angle,
                       text_color="black", **kw))


# panel letters, station boxes
for X, Y, s in [(257, 115, "(a)"), (1986, 115, "(b)"), (257, 727, "(c)"), (1986, 727, "(d)")]:
    label(X, Y, s, style="bold")
box = dict(background_fill_color="white", border_line_color="#777777", border_line_width=1.4, padding=6)
label(1129, 122, "Zugspitze", style="bold", **box)
label(1129, 736, "Garmisch", style="bold", **box)

# legend, drawn from the same symbols
p.add_layout(BoxAnnotation(left=px(343), right=px(870), top=py(97), bottom=py(327), fill_color="white",
                           fill_alpha=1, line_color="black", line_alpha=1, line_width=2.6, level="underlay"))
col_marker = [382, 546, 720]
col_text = [443, 606, 783]
row_y = [133, 188, 243, 297]
for i, m in enumerate(months):
    r, c = divmod(i, 3)
    mx, my = px(col_marker[c]), py(row_y[r])
    col = colors[i]
    kw = dict(color=col)
    if m == "jan":
        p.scatter([mx], [my], marker="square", size=15, **kw)
    elif m == "feb":
        p.scatter([mx], [my], marker="circle", size=17, **kw)
    elif m == "mar":
        p.scatter([mx], [my], marker="triangle", size=22, **kw)
    elif m == "apr":
        p.scatter([mx], [my], marker="inverted_triangle", size=22, **kw)
    elif m == "may":
        p.scatter([mx], [my], marker="square", angle=pi / 4, size=16, **kw)
    elif m == "jun":
        p.scatter([mx], [my], marker="triangle", angle=pi / 2, size=22, **kw)
    elif m == "jul":
        p.scatter([mx], [my], marker="triangle", angle=-pi / 2, size=22, **kw)
    elif m == "aug":
        p.scatter([mx], [my], marker="hex", angle=pi / 2, size=19, **kw)
    elif m == "sep":
        p.scatter([mx], [my], marker="star", size=22, **kw)
    elif m == "oct":
        p.ngon([mx], [my], radius=11, radius_units="screen", n=5, **kw)
    elif m == "nov":
        p.scatter([mx], [my], marker="circle", size=17, **kw)
        p.scatter([mx - 0.03], [my + 0.035], marker="circle", size=5, color="#F1F7C4")
    else:
        p.scatter([mx], [my], marker="cross", size=16, line_color=col, line_width=1.6)
    p.add_layout(Label(x=px(col_text[c]), y=my, text=m, text_font="Liberation Sans", text_font_size="44px",
                       text_align="left", text_baseline="middle", text_color="black"))

open("out.html", "w").write(file_html(p, INLINE))
